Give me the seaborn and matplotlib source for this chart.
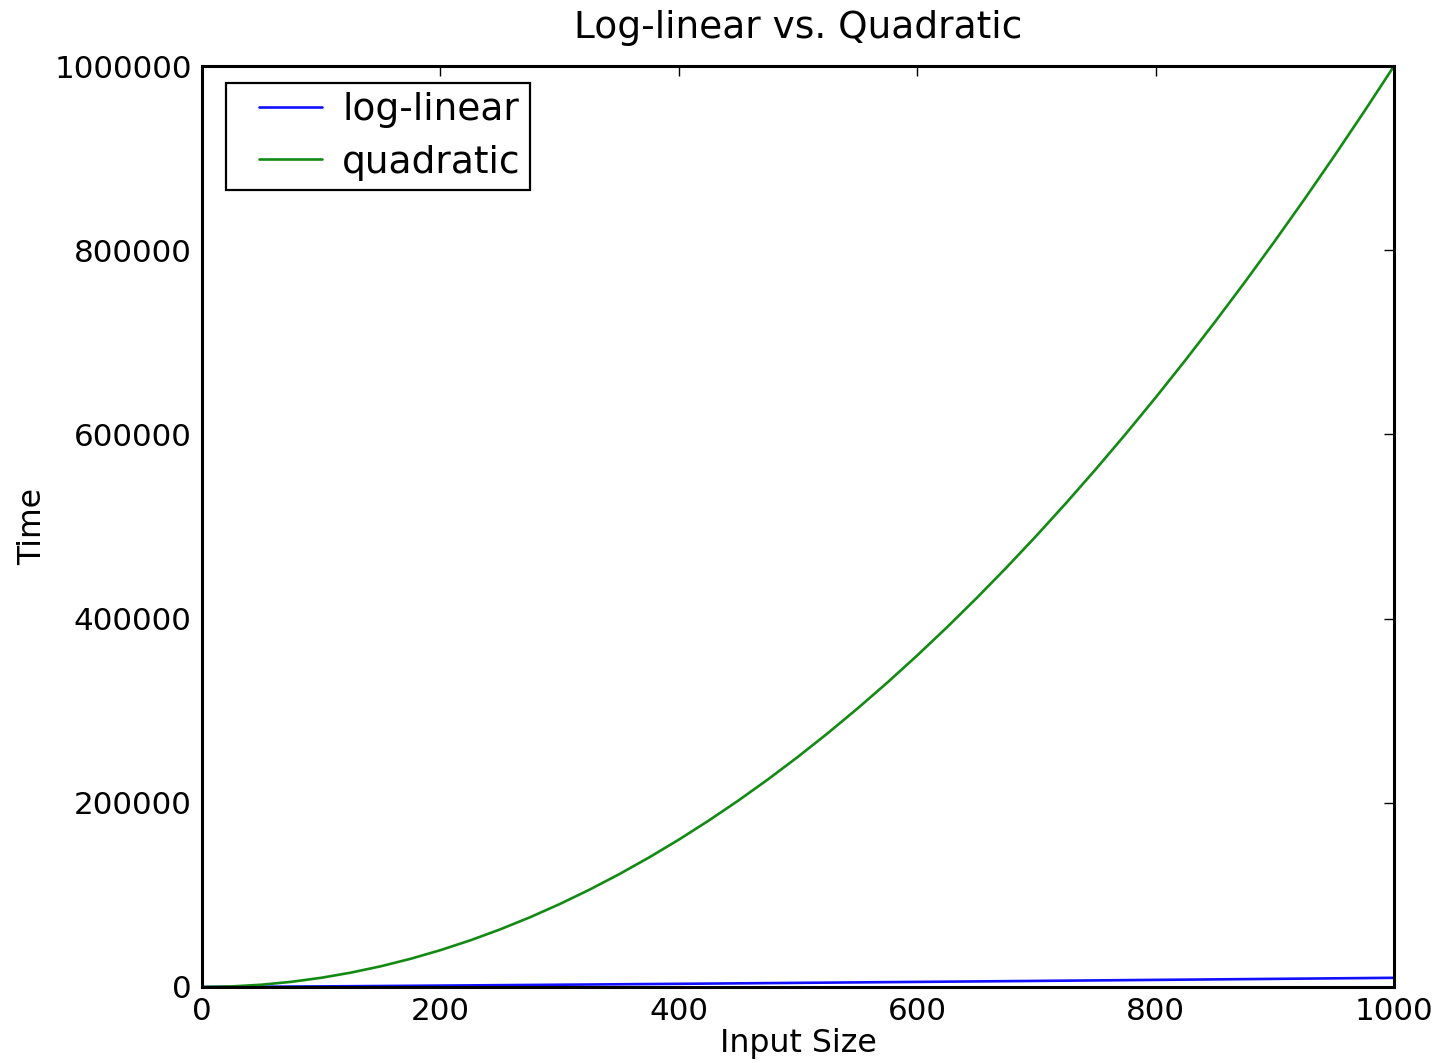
import pandas as pd
import matplotlib
matplotlib.use("Agg")
import matplotlib.pyplot as plt
from matplotlib.legend_handler import HandlerLine2D
import seaborn as sb

# values (every 25 input sizes)
sizes = list(range(0, 1001, 25))
log_linear = [0, 116, 282, 467, 664, 871, 1084, 1304, 1529, 1758, 1993,
              2229, 2469, 2712, 2958, 3207, 3458, 3711, 3966, 4224, 4483,
              4745, 5007, 5272, 5537, 5805, 6074, 6344, 6616, 6889, 7164,
              7439, 7715, 7993, 8272, 8552, 8833, 9115, 9398, 9682, 9966]
quadratic = [0, 625, 2500, 5625, 10000, 15625, 22500, 30625, 40000, 50625, 62500,
             75625, 90000, 105625, 122500, 140625, 160000, 180625, 202500, 225625, 250000,
             275625, 302500, 330625, 360000, 390625, 422500, 455625, 490000, 525625, 562500,
             600625, 640000, 680625, 722500, 765625, 810000, 855625, 902500, 950625, 1000000]

df = pd.DataFrame({
    "Input Size": sizes * 2,
    "Time": log_linear + quadratic,
    "kind": ["log-linear"] * len(sizes) + ["quadratic"] * len(sizes),
})

sb.set_style("white", rc={"text.color": "black", "axes.labelcolor": "black",
                          "xtick.color": "black", "ytick.color": "black"})
plt.rcParams["font.family"] = ["DejaVu Sans"]

fig = plt.figure(figsize=(14.41, 10.63), dpi=100)
ax = fig.add_axes([0.1402, 0.0715, 0.8272, 0.8664])

sb.lineplot(data=df, x="Input Size", y="Time", hue="kind",
            palette={"log-linear": "#1010ff", "quadratic": "#138a13"},
            linewidth=1.9, ax=ax)

ax.set_xlim(0, 1000)
ax.set_ylim(0, 1000000)
ax.set_xticks([0, 200, 400, 600, 800, 1000])
ax.set_yticks([0, 200000, 400000, 600000, 800000, 1000000])
ax.ticklabel_format(style="plain", useOffset=False)
ax.tick_params(direction="in", top=True, right=True, length=7.5, width=1,
               labelsize=22.3, colors="black", pad=7.5)
for s in ax.spines.values():
    s.set_linewidth(2.2)
    s.set_color("black")

ax.set_title("Log-linear vs. Quadratic", fontsize=27, pad=20)
ax.set_xlabel("Input Size", fontsize=22.7, labelpad=1)
ax.set_ylabel("Time", fontsize=22.7, labelpad=4)

leg = ax.legend(loc="upper left", bbox_to_anchor=(0.0201, 0.9815),
                fontsize=27, frameon=True, fancybox=False,
                handlelength=2.32, handletextpad=0.53, borderpad=0.25,
                labelspacing=0.43, borderaxespad=0,
                handler_map={plt.Line2D: HandlerLine2D(xpad=0.63)})
leg.get_frame().set_edgecolor("black")
leg.get_frame().set_linewidth(1.6)
leg.get_frame().set_alpha(1)

plt.savefig("out.png", dpi=100)
